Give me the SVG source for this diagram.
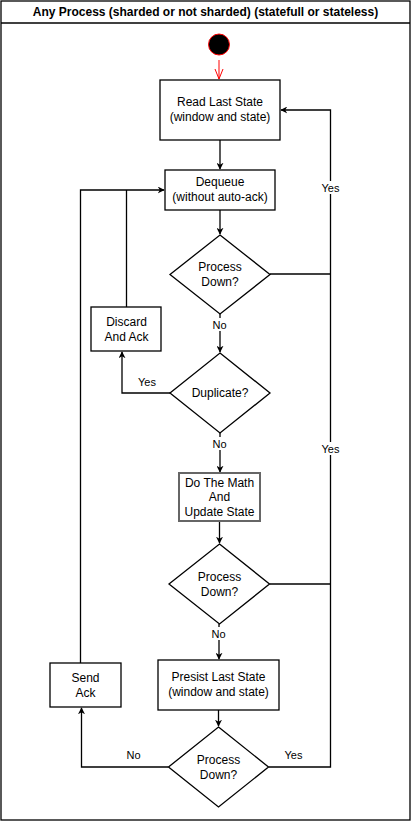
<svg xmlns="http://www.w3.org/2000/svg" width="411" height="821" viewBox="0 0 411 821">
<style>
text{font-family:"Liberation Sans",Arial,sans-serif;font-size:12px;fill:#000;text-anchor:middle}
.t{font-weight:bold}
.n{fill:#fff;stroke:#000;stroke-width:1.3}
.c{fill:none;stroke:#000;stroke-width:1.3}
.lbl{font-size:11px}
.bg{fill:#fff}
</style>
<defs>
<marker id="a" viewBox="0 0 10 10" refX="9" refY="5" markerWidth="7" markerHeight="7" orient="auto" markerUnits="userSpaceOnUse">
<path d="M0,0 L10,5 L0,10 L3,5 Z" fill="#000"/>
</marker>
<marker id="r" viewBox="0 0 10 10" refX="10" refY="5" markerWidth="10" markerHeight="10" orient="auto" markerUnits="userSpaceOnUse">
<path d="M0,1 L10,5 L0,9" fill="none" stroke="#f00" stroke-width="1"/>
</marker>
</defs>
<g id="frame">
<rect x="1" y="1" width="409" height="819" fill="#fff" stroke="#000" stroke-width="1.3"/>
<line x1="1" y1="23" x2="410" y2="23" stroke="#000" stroke-width="1.3"/>
<text class="t" x="205.5" y="16">Any Process (sharded or not sharded) (statefull or stateless)</text>
</g>
<g id="connectors">
<line x1="219" y1="60" x2="219" y2="79" stroke="#f00" stroke-width="1" marker-end="url(#r)"/>
<line class="c" x1="220" y1="140" x2="220" y2="169" marker-end="url(#a)"/>
<line class="c" x1="220" y1="210" x2="220" y2="234" marker-end="url(#a)"/>
<line class="c" x1="220" y1="314" x2="220" y2="352" marker-end="url(#a)"/>
<line class="c" x1="220" y1="433" x2="220" y2="472" marker-end="url(#a)"/>
<line class="c" x1="219.5" y1="521" x2="219.5" y2="543" marker-end="url(#a)"/>
<line class="c" x1="219" y1="624" x2="219" y2="659" marker-end="url(#a)"/>
<line class="c" x1="218.5" y1="710" x2="218.5" y2="726" marker-end="url(#a)"/>
<polyline class="c" points="270,274 330,274"/>
<polyline class="c" points="269.5,584 330,584"/>
<polyline class="c" points="268.5,767 330.5,767 330.5,110 281,110" marker-end="url(#a)"/>
<polyline class="c" points="170,393 122,393 122,352" marker-end="url(#a)"/>
<polyline class="c" points="126.5,307 126.5,190"/>
<polyline class="c" points="80.5,663 80.5,190 164,190" marker-end="url(#a)"/>
<polyline class="c" points="168.5,767 81.5,767 81.5,708" marker-end="url(#a)"/>
<rect class="bg" x="212" y="318" width="15" height="13"/>
<text class="lbl" x="219.5" y="329">No</text>
<rect class="bg" x="212" y="437" width="15" height="13"/>
<text class="lbl" x="219.5" y="448">No</text>
<rect class="bg" x="211" y="627" width="15" height="13"/>
<text class="lbl" x="218.5" y="638">No</text>
<rect class="bg" x="320" y="181" width="21" height="13"/>
<text class="lbl" x="330.5" y="192">Yes</text>
<rect class="bg" x="320" y="442" width="21" height="13"/>
<text class="lbl" x="330.5" y="453">Yes</text>
<text class="lbl" x="147" y="386">Yes</text>
<text class="lbl" x="293.5" y="759">Yes</text>
<text class="lbl" x="133.5" y="759">No</text>
</g>
<g id="start">
<circle cx="219" cy="44.5" r="10.5" fill="#000" stroke="#f00" stroke-width="1"/>
</g>
<g id="readState">
<rect class="n" x="160" y="80" width="120" height="60"/>
<text x="220" y="106">Read Last State</text>
<text x="220" y="121">(window and state)</text>
</g>
<g id="dequeue">
<rect class="n" x="165" y="170" width="110" height="40"/>
<text x="220" y="186">Dequeue</text>
<text x="220" y="201">(without auto-ack)</text>
</g>
<g id="down1">
<polygon class="n" points="220,235 270,274.5 220,314 170,274.5"/>
<text x="220" y="271">Process</text>
<text x="220" y="286">Down?</text>
</g>
<g id="discard">
<rect class="n" x="91" y="307" width="70" height="44"/>
<text x="126.5" y="326">Discard</text>
<text x="126.5" y="341">And Ack</text>
</g>
<g id="duplicate">
<polygon class="n" points="220,353 270,393 220,433 170,393"/>
<text x="220" y="397">Duplicate?</text>
</g>
<g id="math">
<rect x="179" y="473" width="81" height="48" fill="#fff" stroke="#666" stroke-width="2"/>
<text x="219.5" y="487">Do The Math</text>
<text x="219.5" y="501">And</text>
<text x="219.5" y="516">Update State</text>
</g>
<g id="down2">
<polygon class="n" points="219.5,544 269.5,584 219.5,624 169,584"/>
<text x="219.5" y="581">Process</text>
<text x="219.5" y="596">Down?</text>
</g>
<g id="persist">
<rect class="n" x="158" y="660" width="121" height="50"/>
<text x="218.5" y="681">Presist Last State</text>
<text x="218.5" y="696">(window and state)</text>
</g>
<g id="down3">
<polygon class="n" points="218.5,727 268.5,767 218.5,807 168.5,767"/>
<text x="218.5" y="764">Process</text>
<text x="218.5" y="779">Down?</text>
</g>
<g id="sendAck">
<rect class="n" x="50" y="663" width="71" height="44"/>
<text x="85.5" y="682">Send</text>
<text x="85.5" y="697">Ack</text>
</g>
</svg>
